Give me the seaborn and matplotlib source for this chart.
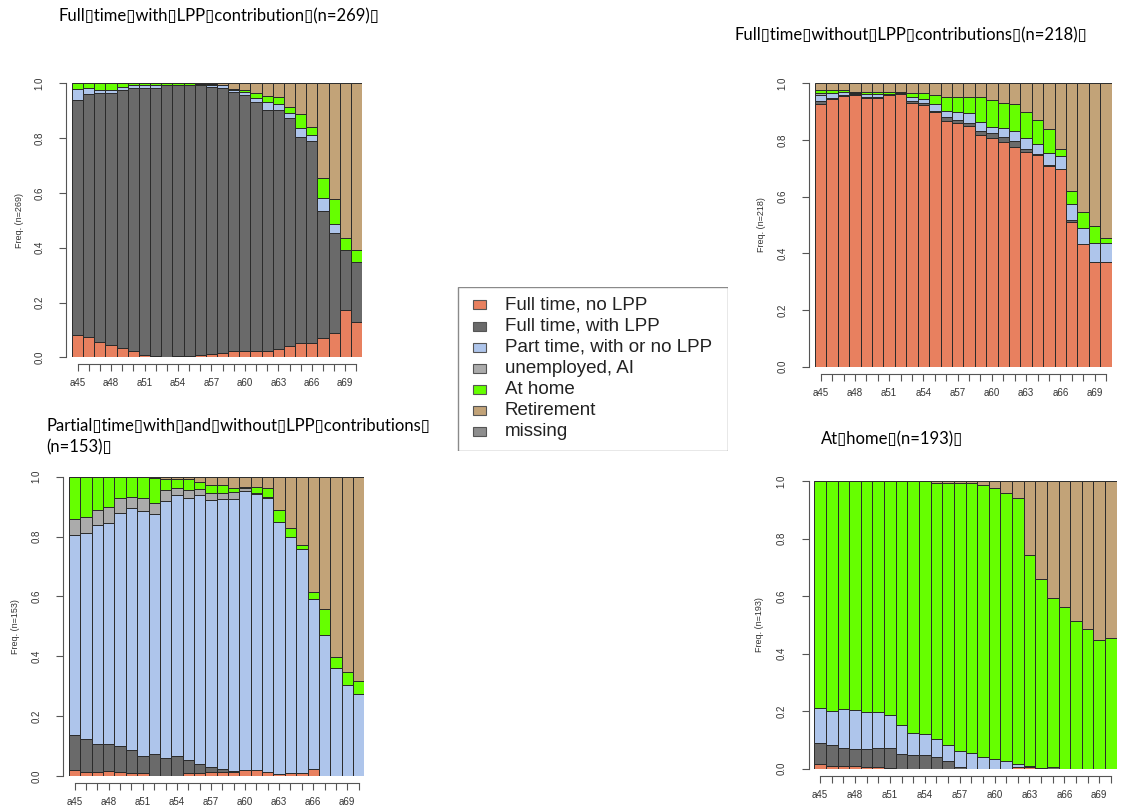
import numpy as np
import pandas as pd
import matplotlib.pyplot as plt
from matplotlib.patches import Rectangle
import seaborn as sns

# ages on the x axis (a45 .. a70)
ages = list(range(45, 71))
age_labels = ["a%d" % a for a in ages]

states = ["Full time, no LPP", "Full time, with LPP", "Part time, with or no LPP",
          "unemployed, AI", "At home", "Retirement", "missing"]
state_colors = ["#E8805F", "#6A6A6A", "#AEC5EB", "#ABABAB", "#66FF00", "#C2A378", "#8E8E8E"]

# Panel 1: full time with LPP contribution (n=269)
p1_ft_nolpp = [0.082, 0.073, 0.055, 0.044, 0.033, 0.022, 0.008, 0.005, 0.000, 0.005, 0.005, 0.007, 0.012,
               0.016, 0.023, 0.024, 0.022, 0.024, 0.030, 0.040, 0.054, 0.054, 0.069, 0.089, 0.173, 0.130]
p1_ft_lpp = [0.858, 0.889, 0.910, 0.921, 0.943, 0.961, 0.975, 0.978, 0.995, 0.990, 0.988, 0.986, 0.975,
             0.967, 0.944, 0.932, 0.910, 0.880, 0.871, 0.833, 0.749, 0.736, 0.464, 0.365, 0.217, 0.217]
p1_pt = [0.040, 0.021, 0.012, 0.012, 0.012, 0.009, 0.009, 0.009, 0.000, 0.000, 0.000, 0.000, 0.006,
         0.009, 0.009, 0.012, 0.013, 0.026, 0.024, 0.018, 0.033, 0.021, 0.050, 0.031, 0.000, 0.000]
p1_unemp = [0, 0, 0, 0, 0, 0, 0, 0, 0, 0, 0, 0, 0, 0, 0, 0, 0, 0, 0, 0, 0, 0, 0, 0, 0, 0]
p1_home = [0.020, 0.017, 0.023, 0.023, 0.012, 0.008, 0.008, 0.008, 0.005, 0.005, 0.007, 0.004, 0.003,
           0.001, 0.005, 0.009, 0.021, 0.025, 0.024, 0.021, 0.053, 0.031, 0.070, 0.092, 0.044, 0.043]
p1_retire = [0, 0, 0, 0, 0, 0, 0, 0, 0, 0, 0, 0.003, 0.004,
             0.007, 0.019, 0.023, 0.034, 0.045, 0.051, 0.088, 0.111, 0.158, 0.347, 0.423, 0.566, 0.610]

# Panel 2: full time without LPP contributions (n=218)
p2_ft_nolpp = [0.927, 0.946, 0.954, 0.959, 0.948, 0.948, 0.958, 0.963, 0.932, 0.924, 0.898, 0.867, 0.861,
               0.849, 0.816, 0.807, 0.794, 0.774, 0.756, 0.748, 0.708, 0.699, 0.512, 0.432, 0.368, 0.368]
p2_ft_lpp = [0.012, 0.002, 0.003, 0.002, 0.002, 0.002, 0.004, 0.002, 0.006, 0.005, 0.006, 0.013, 0.010,
             0.012, 0.016, 0.017, 0.018, 0.023, 0.012, 0.002, 0.004, 0.000, 0.004, 0.000, 0.000, 0.000]
p2_pt = [0.018, 0.017, 0.012, 0.006, 0.012, 0.012, 0.000, 0.000, 0.015, 0.016, 0.023, 0.024, 0.029,
         0.033, 0.033, 0.023, 0.029, 0.036, 0.040, 0.036, 0.043, 0.045, 0.057, 0.056, 0.067, 0.067]
p2_unemp = [0.008, 0, 0, 0, 0, 0, 0, 0, 0, 0, 0, 0, 0, 0, 0, 0, 0, 0, 0, 0, 0, 0, 0, 0, 0, 0]
p2_home = [0.010, 0.011, 0.007, 0.002, 0.007, 0.007, 0.008, 0.004, 0.012, 0.020, 0.031, 0.049, 0.053,
           0.059, 0.088, 0.094, 0.091, 0.093, 0.089, 0.085, 0.084, 0.025, 0.048, 0.059, 0.062, 0.020]
p2_retire = [0.025, 0.024, 0.024, 0.031, 0.031, 0.031, 0.030, 0.031, 0.035, 0.035, 0.042, 0.047, 0.047,
             0.047, 0.047, 0.059, 0.068, 0.074, 0.103, 0.129, 0.161, 0.231, 0.379, 0.453, 0.503, 0.545]

# Panel 3: partial time with and without LPP contributions (n=153)
p3_ft_nolpp = [0.020, 0.014, 0.012, 0.018, 0.012, 0.009, 0.009, 0.000, 0.000, 0.000, 0.009, 0.009, 0.014,
               0.014, 0.014, 0.020, 0.020, 0.012, 0.007, 0.009, 0.011, 0.023, 0, 0, 0, 0]
p3_ft_lpp = [0.116, 0.108, 0.095, 0.089, 0.088, 0.078, 0.058, 0.073, 0.060, 0.068, 0.046, 0.032, 0.015,
             0.008, 0.003, 0, 0, 0, 0, 0, 0, 0, 0, 0, 0, 0]
p3_pt = [0.669, 0.691, 0.732, 0.739, 0.780, 0.807, 0.819, 0.801, 0.859, 0.872, 0.874, 0.897, 0.892,
         0.905, 0.908, 0.933, 0.923, 0.918, 0.842, 0.789, 0.746, 0.567, 0.470, 0.360, 0.304, 0.273]
p3_unemp = [0.055, 0.053, 0.050, 0.054, 0.048, 0.039, 0.042, 0.038, 0.035, 0.022, 0.025, 0.020, 0.026,
            0.020, 0.025, 0.008, 0.004, 0.002, 0, 0, 0, 0, 0, 0, 0, 0]
p3_home = [0.140, 0.134, 0.111, 0.100, 0.072, 0.067, 0.072, 0.083, 0.039, 0.031, 0.039, 0.024, 0.026,
           0.026, 0.011, 0.006, 0.018, 0.031, 0.041, 0.032, 0.016, 0.024, 0.089, 0.039, 0.043, 0.045]
p3_retire = [0, 0, 0, 0, 0, 0, 0, 0.005, 0.007, 0.007, 0.007, 0.018, 0.027,
             0.027, 0.039, 0.033, 0.035, 0.037, 0.110, 0.170, 0.227, 0.386, 0.441, 0.601, 0.653, 0.682]

# Panel 4: at home (n=193)
p4_ft_nolpp = [0.016, 0.010, 0.010, 0.010, 0.005, 0.005, 0.003, 0, 0, 0, 0, 0, 0,
               0, 0, 0, 0, 0.005, 0.005, 0.004, 0, 0, 0, 0, 0, 0]
p4_ft_lpp = [0.074, 0.072, 0.061, 0.057, 0.062, 0.067, 0.069, 0.051, 0.046, 0.046, 0.041, 0.027, 0.006,
             0, 0, 0, 0, 0, 0, 0, 0.005, 0, 0, 0, 0, 0]
p4_pt = [0.120, 0.120, 0.135, 0.137, 0.129, 0.124, 0.116, 0.101, 0.079, 0.075, 0.061, 0.055, 0.057,
         0.056, 0.041, 0.035, 0.027, 0.011, 0.005, 0, 0, 0, 0, 0, 0, 0]
p4_unemp = [0, 0, 0, 0, 0, 0, 0, 0, 0, 0, 0, 0, 0, 0, 0, 0, 0, 0, 0, 0, 0, 0, 0, 0, 0, 0]
p4_home = [0.790, 0.798, 0.794, 0.796, 0.804, 0.804, 0.812, 0.848, 0.875, 0.879, 0.893, 0.913, 0.932,
           0.937, 0.946, 0.943, 0.931, 0.925, 0.734, 0.656, 0.590, 0.561, 0.514, 0.485, 0.448, 0.456]
p4_retire = [0, 0, 0, 0, 0, 0, 0, 0, 0, 0, 0.005, 0.005, 0.005,
             0.007, 0.013, 0.022, 0.042, 0.059, 0.256, 0.340, 0.405, 0.439, 0.486, 0.515, 0.552, 0.544]

B = "\u25af"
titles = [
    "Full" + B + "time" + B + "with" + B + "LPP" + B + "contribution" + B + "(n=269)" + B,
    "Full" + B + "time" + B + "without" + B + "LPP" + B + "contributions" + B + "(n=218)" + B,
    "Partial" + B + "time" + B + "with" + B + "and" + B + "without" + B + "LPP" + B + "contributions" + B
    + "\n(n=153)" + B,
    "At" + B + "home" + B + "(n=193)" + B,
]
sizes = [269, 218, 153, 193]

sns.set_style("ticks")
plt.rcParams['font.family'] = ['Liberation Sans', 'DejaVu Sans']

W, H = 1126, 805
fig = plt.figure(figsize=(W / 100, H / 100), dpi=100)


def px_axes(left, top, right, bottom):
    return fig.add_axes([left / W, 1 - bottom / H, (right - left) / W, (bottom - top) / H])


def draw_panel(ax, series, n):
    rows = []
    for state, vals in zip(states[:6], series):
        for age, v in zip(ages, vals):
            rows.append({"age": age, "state": state, "freq": v})
    df = pd.DataFrame(rows)
    # seaborn stacks the last hue level at the bottom
    order = states[:6][::-1]
    pal = dict(zip(states, state_colors))
    sns.histplot(data=df, x="age", weights="freq", hue="state", hue_order=order,
                 palette=pal, multiple="stack", discrete=True, shrink=1,
                 alpha=1, edgecolor="#2a2a2a", linewidth=0.7, legend=False, ax=ax)
    # spine positions first: set_position resets the ticks
    for s in ["top", "right"]:
        ax.spines[s].set_visible(False)
    ax.spines["left"].set_position(("outward", 4))
    ax.spines["bottom"].set_position(("outward", 5))
    ax.set_xlim(44.5, 70.5)
    ax.set_ylim(0, 1)
    ax.spines["left"].set_bounds(0, 1)
    ax.spines["bottom"].set_bounds(45, 70)
    for s in ["left", "bottom"]:
        ax.spines[s].set_color("#555555")
        ax.spines[s].set_linewidth(0.8)
    ax.set_xlabel("")
    ax.set_ylabel("Freq. (n=%d)" % n, fontsize=6.5, color="#333333")
    ax.yaxis.set_label_coords(-0.165, 0.5)
    ax.set_xticks(ages)
    ax.set_xticklabels([lab if i % 3 == 0 else "" for i, lab in enumerate(age_labels)])
    ax.set_yticks([0, 0.2, 0.4, 0.6, 0.8, 1.0])
    ax.set_yticklabels(["0.0", "0.2", "0.4", "0.6", "0.8", "1.0"], va="center")
    ax.tick_params(axis="x", length=5, width=0.8, color="#555555", labelsize=7, pad=5,
                   labelcolor="#333333")
    ax.tick_params(axis="y", length=5, width=0.8, color="#555555", labelsize=7, pad=11,
                   labelcolor="#333333", labelrotation=90)
    ax.patch.set_alpha(0)


panels = [
    ((72, 83.3, 362, 357.3), [p1_ft_nolpp, p1_ft_lpp, p1_pt, p1_unemp, p1_home, p1_retire]),
    ((815, 83.3, 1111.7, 366.7), [p2_ft_nolpp, p2_ft_lpp, p2_pt, p2_unemp, p2_home, p2_retire]),
    ((69, 476.7, 364.3, 776), [p3_ft_nolpp, p3_ft_lpp, p3_pt, p3_unemp, p3_home, p3_retire]),
    ((814.3, 481.3, 1116.7, 768.7), [p4_ft_nolpp, p4_ft_lpp, p4_pt, p4_unemp, p4_home, p4_retire]),
]
for (box, series), n in zip(panels, sizes):
    ax = px_axes(*box)
    draw_panel(ax, series, n)

# titles
title_pos = [(58, 16), (734, 35), (46, 437), (821, 439)]
for t, (x, y) in zip(titles, title_pos):
    fig.text(x / W, 1 - y / H, t, ha="left", va="center", fontsize=12,
             family=["Lato", "DejaVu Sans"], color="black", linespacing=1.4)

# legend box in the middle
lax = px_axes(457, 287, 728, 451)
lax.set_xlim(457, 728)
lax.set_ylim(451, 287)
lax.axis("off")
lax.add_patch(Rectangle((457.5, 287.5), 270, 163, fill=False, edgecolor="#8a8a8a", lw=1.0))
for i, (lab, col) in enumerate(zip(states, state_colors)):
    yc = 305 + i * 21.1
    lax.add_patch(Rectangle((473, yc - 4.5), 13, 9, facecolor=col, edgecolor="#555555", lw=0.8))
    lax.text(505, yc, lab, ha="left", va="center", fontsize=13.5, color="#222222")

plt.savefig("out.png", dpi=100)
